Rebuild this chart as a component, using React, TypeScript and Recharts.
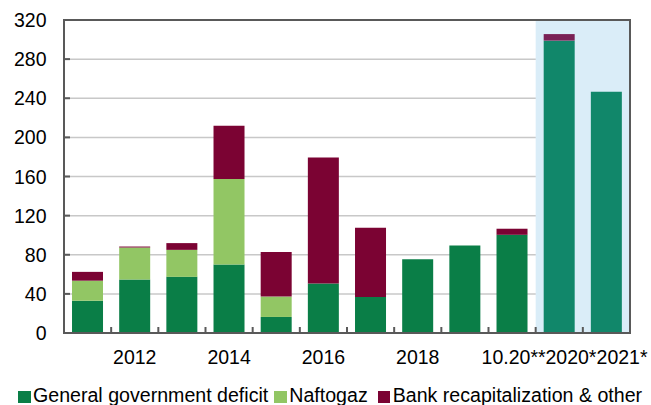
import React from 'react';
import { BarChart, Bar, XAxis, YAxis, CartesianGrid, ReferenceArea, Legend, Cell } from 'recharts';

const categories = ['2011', '2012', '2013', '2014', '2015', '2016', '2017', '2018', '2019', '10.20**', '2020*', '2021*'];
const tickLabels = ['', '2012', '', '2014', '', '2016', '', '2018', '', '10.20**', '2020*', '2021*'];
const govDeficit = [33, 54.6, 57.4, 70, 16.4, 50.5, 36.9, 75.5, 89.5, 100.4, 298.9, 246.6];
const naftogaz = [20.5, 32.8, 27.6, 87.5, 20.8, 0, 0, 0, 0, 0, 0, 0];
const bankRecap = [9, 1, 6.9, 54.3, 45.5, 128.8, 70.7, 0, 0, 6.2, 6.7, 0];
const forecast = [false, false, false, false, false, false, false, false, false, false, true, true];
const yTicks = [0, 40, 80, 120, 160, 200, 240, 280, 320];

const seriesNames = ['General government deficit', 'Naftogaz', 'Bank recapitalization & other'];
const colors = ['#0A7E47', '#92C664', '#7B0333'];
const forecastColors = ['#11876A', '#92C664', '#7A2155'];

const data = categories.map((name, i) => ({
  name,
  gov: govDeficit[i],
  naft: naftogaz[i],
  bank: bankRecap[i],
}));

const FONT = "Arial, 'Liberation Sans', sans-serif";
const AXIS = '#595959';
// horizontal nudges so the crowded last labels sit side by side, as in the original
const labelNudge = [0, 0, 0, 0, 0, 0, 0, 0, 0, 1.5, 11.7, 15.6];

const XTick = (props: any) => {
  const { x, y, payload } = props;
  const idx = payload.index ?? categories.indexOf(payload.value);
  const half = payload.offset && payload.offset > 0 ? payload.offset : 23.58;
  return (
    <g>
      {idx > 0 && (
        <line x1={x - half} x2={x - half} y1={y} y2={y - 6} stroke={AXIS} strokeWidth={2} />
      )}
      <text
        x={x + labelNudge[idx]}
        y={y + 31}
        textAnchor="middle"
        fontSize={19.5}
        fontFamily={FONT}
        fill="#000"
      >
        {tickLabels[idx]}
      </text>
    </g>
  );
};

const YTick = (props: any) => {
  const { x, y, payload } = props;
  return (
    <g>
      <line x1={x} x2={x + 6} y1={y} y2={y} stroke={AXIS} strokeWidth={2} />
      <text x={x - 17.5} y={y} dy="0.36em" textAnchor="end" fontSize={19.5} fontFamily={FONT} fill="#000">
        {payload.value}
      </text>
    </g>
  );
};

const LegendContent = () => (
  <div
    style={{
      display: 'flex',
      alignItems: 'flex-start',
      fontFamily: FONT,
      fontSize: 19.6,
      lineHeight: '20px',
      color: '#000',
      whiteSpace: 'nowrap',
      paddingLeft: 18,
    }}
  >
    {seriesNames.map((n, i) => (
      <div key={n} style={{ display: 'flex', alignItems: 'flex-start', marginRight: i === 0 ? 6 : 10 }}>
        <div style={{ width: 12.5, height: 12.5, background: colors[i], marginTop: 5.3, marginRight: 2.5 }} />
        <span>{n}</span>
      </div>
    ))}
  </div>
);

export default function App() {
  return (
    <div style={{ position: 'absolute', left: 0, top: 0, width: 651, height: 405, background: '#fff' }}>
      <BarChart
        width={651}
        height={405}
        data={data}
        margin={{ top: 20, right: 21, bottom: 42, left: 0 }}
        barCategoryGap="17%"
      >
        <ReferenceArea x1="2020*" x2="2021*" fill="#DAEDF8" fillOpacity={1} stroke="none" />
        <CartesianGrid vertical={false} stroke="#C8C8C8" strokeWidth={1.5} />
        <XAxis
          dataKey="name"
          height={30}
          tickSize={0}
          tickMargin={0}
          tickLine={false}
          interval={0}
          axisLine={{ stroke: AXIS, strokeWidth: 2 }}
          tick={<XTick />}
        />
        <YAxis
          width={64}
          domain={[0, 320]}
          ticks={yTicks}
          interval={0}
          tickSize={0}
          tickMargin={0}
          tickLine={false}
          axisLine={{ stroke: AXIS, strokeWidth: 2 }}
          tick={<YTick />}
        />
        <Bar dataKey="gov" stackId="a" name={seriesNames[0]} fill={colors[0]} isAnimationActive={false}>
          {data.map((d, i) => (
            <Cell key={d.name} fill={forecast[i] ? forecastColors[0] : colors[0]} />
          ))}
        </Bar>
        <Bar dataKey="naft" stackId="a" name={seriesNames[1]} fill={colors[1]} isAnimationActive={false} />
        <Bar dataKey="bank" stackId="a" name={seriesNames[2]} fill={colors[2]} isAnimationActive={false}>
          {data.map((d, i) => (
            <Cell key={d.name} fill={forecast[i] ? forecastColors[2] : colors[2]} />
          ))}
        </Bar>
        <ReferenceArea
          x1="2011"
          x2="2021*"
          y1={0}
          y2={320}
          fill="none"
          fillOpacity={0}
          stroke={AXIS}
          strokeWidth={2}
        />
        <Legend
          layout="horizontal"
          verticalAlign="middle"
          align="center"
          content={<LegendContent />}
          wrapperStyle={{ position: 'absolute', top: 385.3, left: 0, width: 651, height: 20 }}
        />
      </BarChart>
    </div>
  );
}
